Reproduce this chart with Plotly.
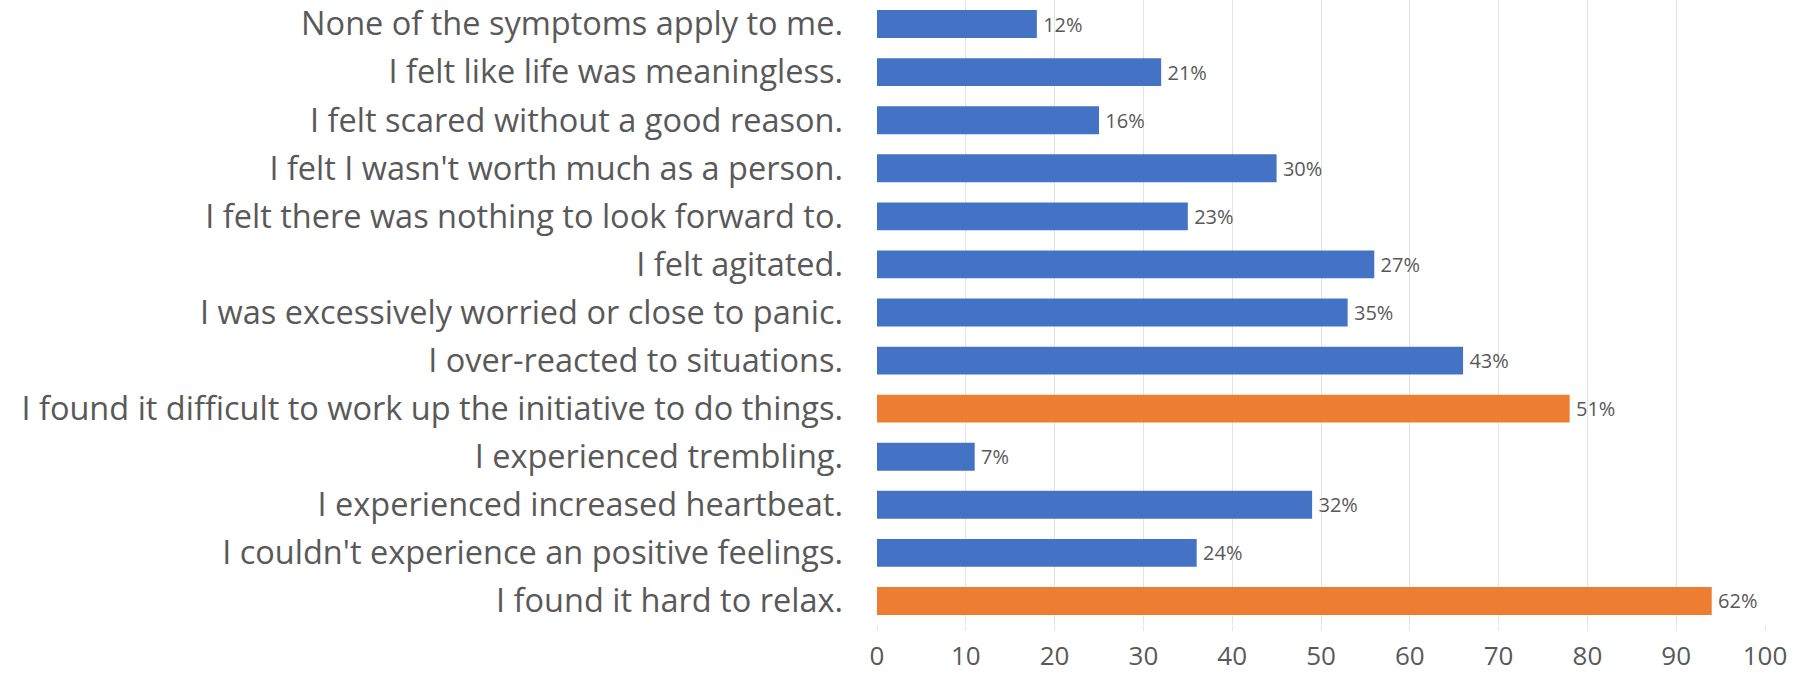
import plotly.graph_objects as go

# Symptom statements, listed top to bottom
symptoms = [
    "None of the symptoms apply to me.",
    "I felt like life was meaningless.",
    "I felt scared without a good reason.",
    "I felt I wasn't worth much as a person.",
    "I felt there was nothing to look forward to.",
    "I felt agitated.",
    "I was excessively worried or close to panic.",
    "I over-reacted to situations.",
    "I found it difficult to work up the initiative to do things.",
    "I experienced trembling.",
    "I experienced increased heartbeat.",
    "I couldn't experience an positive feelings.",
    "I found it hard to relax.",
]

# Number of respondents reporting each symptom
counts = [18, 32, 25, 45, 35, 56, 53, 66, 78, 11, 49, 36, 94]

# Share of respondents shown beside each bar
percent_labels = ["12%", "21%", "16%", "30%", "23%", "27%", "35%",
                  "43%", "51%", "7%", "32%", "24%", "62%"]

# Most frequently reported symptoms are highlighted
highlighted = [False, False, False, False, False, False, False,
               False, True, False, False, False, True]

x_ticks = [0, 10, 20, 30, 40, 50, 60, 70, 80, 90, 100]

BLUE = "#4472C4"
ORANGE = "#ED7D31"
TEXT = "#595959"

colors = [ORANGE if h else BLUE for h in highlighted]

fig = go.Figure(
    go.Bar(
        x=counts,
        y=symptoms,
        orientation="h",
        marker=dict(color=colors, line=dict(width=0)),
        # thin space keeps the value labels a little away from the bar ends
        text=["\u2009" + t for t in percent_labels],
        textposition="outside",
        textfont=dict(family="Open Sans", size=20, color=TEXT),
        cliponaxis=False,
        hoverinfo="x+y",
    )
)

fig.update_layout(
    width=1805,
    height=676,
    margin=dict(l=877, r=40, t=0, b=51),
    paper_bgcolor="white",
    plot_bgcolor="white",
    bargap=0.42,
    showlegend=False,
    font=dict(family="Open Sans", color=TEXT),
)

fig.update_xaxes(
    range=[0, 100],
    tickvals=x_ticks,
    ticktext=[str(v) for v in x_ticks],
    tickfont=dict(family="Open Sans", size=26, color=TEXT),
    showgrid=True,
    gridcolor="#E3E3E3",
    gridwidth=1,
    zeroline=False,
    showline=False,
    ticks="outside",
    ticklen=5,
    tickcolor="#E3E3E3",
    ticklabelstandoff=3,
    automargin=False,
    fixedrange=True,
)

fig.update_yaxes(
    autorange="reversed",
    tickfont=dict(family="Open Sans", size=32.5, color=TEXT),
    showgrid=False,
    zeroline=False,
    showline=False,
    ticks="",
    ticklabelstandoff=33,
    automargin=False,
    fixedrange=True,
)

fig.write_html("out.html")
